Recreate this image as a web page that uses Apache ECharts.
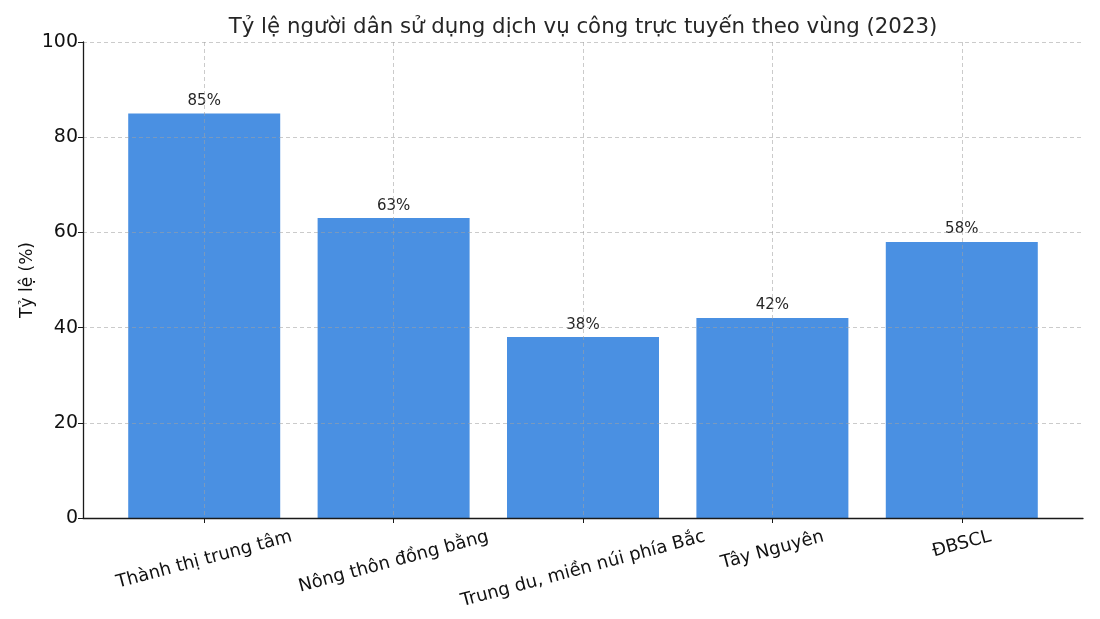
<!DOCTYPE html>
<html><head><meta charset="utf-8">
<script src="https://cdn.jsdelivr.net/npm/echarts@6/dist/echarts.min.js"></script>
<style>html,body{margin:0;padding:0;background:#fff}#c{width:1100px;height:619px}</style>
</head><body><div id="c"></div>
<script>
const title = 'Tỷ lệ người dân sử dụng dịch vụ công trực tuyến theo vùng (2023)';
const yName = 'Tỷ lệ (%)';
const categories = ['Thành thị trung tâm', 'Nông thôn đồng bằng', 'Trung du, miền núi phía Bắc', 'Tây Nguyên', 'ĐBSCL'];
const values = [85, 63, 38, 42, 58];
const yTicks = [0, 20, 40, 60, 80, 100];

const FONT = 'DejaVu Sans';
const LBL_SIZE = 18;
const ROT = 15;
const th = ROT * Math.PI / 180;
const ctx = document.createElement('canvas').getContext('2d');
ctx.font = LBL_SIZE + 'px "' + FONT + '"';
const rich = {};
categories.forEach((c, i) => {
  const w = ctx.measureText(c).width;
  const h = LBL_SIZE * 1.2;
  const E = (w * Math.sin(th) + h * Math.cos(th)) / 2;
  const a = E * Math.cos(th);
  const b = E * Math.sin(th);
  rich['l' + i] = {
    fontFamily: FONT, fontSize: LBL_SIZE, color: '#111',
    padding: [2 * a, 2 * b, 0, 0]
  };
});

const chart = echarts.init(document.getElementById('c'));
chart.setOption({
  animation: false,
  backgroundColor: '#fff',
  textStyle: { fontFamily: FONT },
  title: {
    text: title, left: 578, top: 12, textAlign: 'center',
    textStyle: { fontFamily: FONT, fontSize: 21.3, fontWeight: 'normal', color: '#262626' }
  },
  grid: { left: 83, right: 17, top: 42, bottom: 101, containLabel: false, outerBoundsMode: 'none' },
  xAxis: {
    type: 'value', min: -0.64, max: 4.64, z: 3,
    axisLine: { show: true, onZero: false, lineStyle: { color: '#1a1a1a', width: 1.3 } },
    axisTick: { show: true, length: 5, customValues: categories.map((c, i) => i), lineStyle: { color: '#1a1a1a' } },
    axisLabel: {
      customValues: categories.map((c, i) => i),
      rotate: ROT, align: 'center', verticalAlign: 'middle', margin: 8,
      formatter: v => { const i = Math.round(v); return '{l' + i + '|' + categories[i] + '}'; },
      rich: rich
    },
    splitLine: { show: true, lineStyle: { color: 'rgba(160,160,160,0.55)', type: [4, 3], width: 1 } }
  },
  yAxis: {
    type: 'value', min: yTicks[0], max: yTicks[yTicks.length - 1], interval: 20, z: 3,
    name: yName, nameLocation: 'middle', nameGap: 47, nameMoveOverlap: false,
    nameTextStyle: { fontFamily: FONT, fontSize: 17, color: '#111' },
    axisLine: { show: true, onZero: false, lineStyle: { color: '#1a1a1a', width: 1.3 } },
    axisTick: { show: true, length: 5, inside: false, lineStyle: { color: '#1a1a1a' } },
    axisLabel: { fontFamily: FONT, fontSize: 19, color: '#111', margin: 5 },
    splitLine: { show: true, lineStyle: { color: 'rgba(160,160,160,0.55)', type: [4, 3], width: 1 } }
  },
  series: [{
    type: 'bar',
    data: values.map((v, i) => [i, v]),
    barWidth: 152,
    itemStyle: { color: '#4a90e2' },
    label: {
      show: true, position: 'top', distance: 5,
      formatter: p => p.value[1] + '%',
      fontFamily: FONT, fontSize: 15, color: '#262626'
    }
  }]
});
</script></body></html>
